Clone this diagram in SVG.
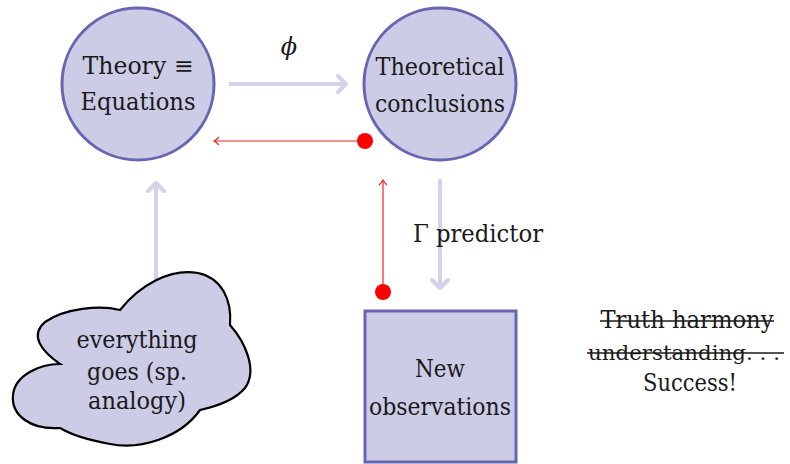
<svg xmlns="http://www.w3.org/2000/svg" width="790" height="464" viewBox="0 0 790 464">
<style>
.node{fill:#ccccE6;stroke:#6666b3;stroke-width:3}
.cloud{fill:#ccccE6;stroke:#000;stroke-width:2.2}
.t{font-family:'DejaVu Serif','Liberation Serif',serif;font-size:24px;fill:#1a1a1a;text-anchor:middle}
.big{stroke:#d2d2ea;stroke-width:4;fill:none}
.red{stroke:#ee2222;stroke-width:1.2;fill:none}
.dot{fill:#ff0000}
.strike{stroke:#1a1a1a;stroke-width:1.3}
</style>
<defs>
<marker id="bigHead" markerUnits="userSpaceOnUse" viewBox="-12 -12 16 24" refX="0" refY="0" markerWidth="16" markerHeight="24" orient="auto">
<path d="M-8,-8 L0,0 L-8,8" fill="none" stroke="#d2d2ea" stroke-width="4" stroke-linecap="round" stroke-linejoin="round"/>
</marker>
<marker id="redHead" markerUnits="userSpaceOnUse" viewBox="-8 -6 10 12" refX="0" refY="0" markerWidth="10" markerHeight="12" orient="auto">
<path d="M-5,-4 Q-2,-1 0,0 Q-2,1 -5,4" fill="none" stroke="#ee2222" stroke-width="1.1"/>
</marker>
</defs>
<g id="connectors">
<line class="big" x1="229" y1="84" x2="346" y2="84" marker-end="url(#bigHead)"/>
<text class="t" x="289" y="55" font-style="italic">ϕ</text>
<line class="big" x1="156" y1="282" x2="156" y2="183" marker-end="url(#bigHead)"/>
<line class="big" x1="440" y1="179" x2="440" y2="288" marker-end="url(#bigHead)"/>
<text class="t" x="478" y="242" textLength="130" lengthAdjust="spacingAndGlyphs">Γ predictor</text>
<line class="red" x1="365" y1="141" x2="214" y2="141" marker-end="url(#redHead)"/>
<circle class="dot" cx="365" cy="141" r="8"/>
<line class="red" x1="383" y1="292" x2="383" y2="180" marker-end="url(#redHead)"/>
<circle class="dot" cx="383" cy="292" r="8"/>
</g>
<g id="theory">
<circle class="node" cx="138" cy="84" r="76"/>
<text class="t" x="138" y="74" textLength="111" lengthAdjust="spacingAndGlyphs">Theory ≡</text>
<text class="t" x="138" y="110" textLength="115" lengthAdjust="spacingAndGlyphs">Equations</text>
</g>
<g id="conclusions">
<circle class="node" cx="440" cy="84" r="76"/>
<text class="t" x="440" y="75" textLength="129" lengthAdjust="spacingAndGlyphs">Theoretical</text>
<text class="t" x="440" y="112" textLength="130" lengthAdjust="spacingAndGlyphs">conclusions</text>
</g>
<g id="observations">
<rect class="node" x="365" y="311" width="151" height="151"/>
<text class="t" x="440" y="377" textLength="50" lengthAdjust="spacingAndGlyphs">New</text>
<text class="t" x="440" y="415" textLength="142" lengthAdjust="spacingAndGlyphs">observations</text>
</g>
<g id="analogy">
<path class="cloud" d="M120,310 C140,285 170,268 198,273 C222,278 232,300 230,325 C245,342 258,370 245,388 C235,400 218,406 200,410 C180,438 140,450 110,444 C88,440 70,434 60,428 C30,430 11,415 13,395 C15,375 40,364 60,364 C40,350 30,335 45,322 C65,308 100,305 120,310 Z"/>
<text class="t" x="137" y="348" textLength="121" lengthAdjust="spacingAndGlyphs">everything</text>
<text class="t" x="137" y="380" textLength="100" lengthAdjust="spacingAndGlyphs">goes (sp.</text>
<text class="t" x="137" y="409" textLength="98" lengthAdjust="spacingAndGlyphs">analogy)</text>
</g>
<g id="success">
<text class="t" x="687" y="328" textLength="173" lengthAdjust="spacingAndGlyphs">Truth harmony</text>
<line class="strike" x1="600" y1="321" x2="774" y2="321"/>
<text class="t" x="684" y="360" font-size="20" style="font-size:20px" textLength="192" lengthAdjust="spacingAndGlyphs">understanding. . .</text>
<line class="strike" x1="587" y1="353" x2="784" y2="353"/>
<text class="t" x="690" y="391" textLength="94" lengthAdjust="spacingAndGlyphs">Success!</text>
</g>
</svg>
